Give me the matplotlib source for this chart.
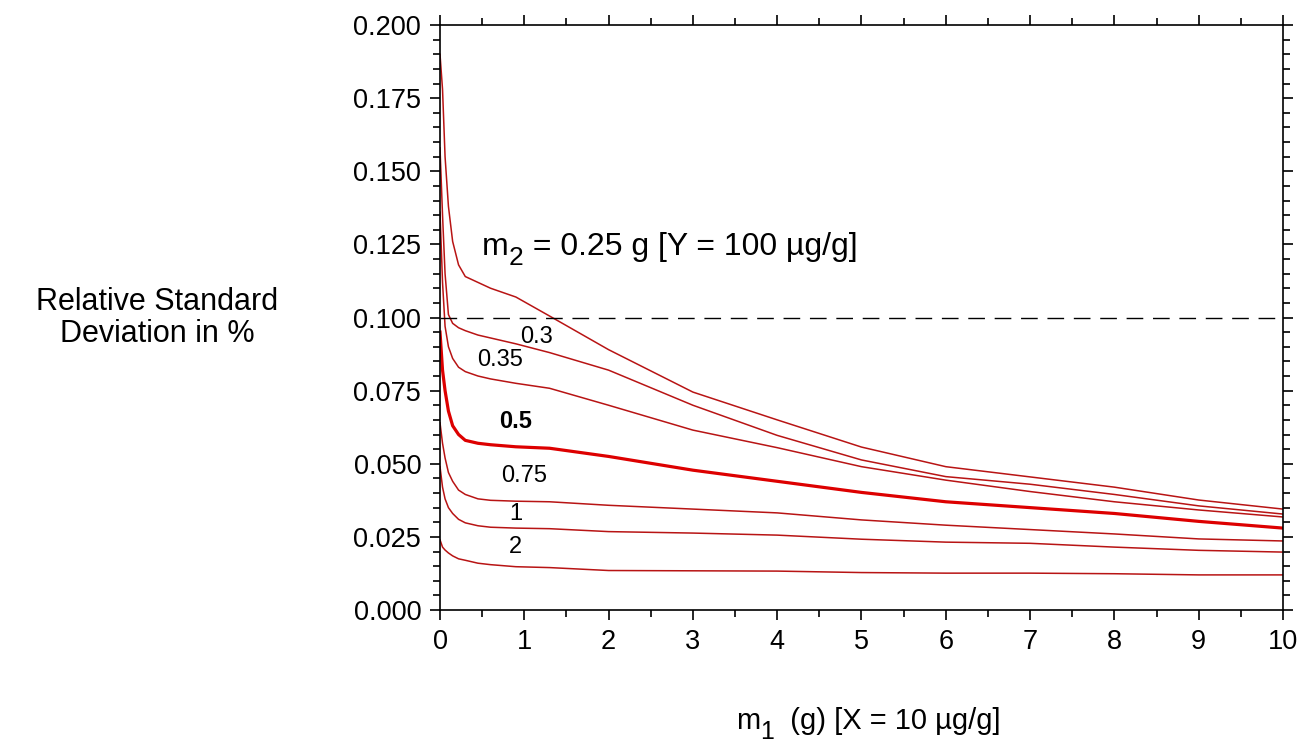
import matplotlib.pyplot as plt
from matplotlib.ticker import MultipleLocator

plt.rcParams['font.family'] = ['Liberation Sans', 'DejaVu Sans']

# data
m1 = [0, 0.03, 0.06, 0.1, 0.15, 0.22, 0.3, 0.45, 0.6, 0.9, 1.3, 2, 3, 4, 5, 6, 7, 8, 9, 10]
rsd_025 = [0.19, 0.178, 0.155, 0.138, 0.126, 0.118, 0.114, 0.112, 0.110, 0.107, 0.1005,
           0.089, 0.0745, 0.065, 0.0557, 0.049, 0.0455, 0.042, 0.0376, 0.0345]
rsd_03 = [0.158, 0.135, 0.115, 0.101, 0.098, 0.0965, 0.0955, 0.094, 0.093, 0.091, 0.088,
          0.082, 0.070, 0.0597, 0.0513, 0.0456, 0.043, 0.0395, 0.0356, 0.0328]
rsd_035 = [0.136, 0.112, 0.097, 0.090, 0.086, 0.083, 0.0815, 0.080, 0.079, 0.0775, 0.0758,
           0.070, 0.0615, 0.0555, 0.049, 0.0444, 0.0405, 0.037, 0.0342, 0.0318]
rsd_05 = [0.095, 0.082, 0.075, 0.068, 0.063, 0.060, 0.058, 0.057, 0.0565, 0.0558, 0.0553,
          0.0525, 0.0478, 0.044, 0.0402, 0.037, 0.035, 0.033, 0.0303, 0.028]
rsd_075 = [0.064, 0.057, 0.052, 0.047, 0.044, 0.041, 0.0395, 0.038, 0.0375, 0.0372, 0.037,
           0.0358, 0.0345, 0.0332, 0.0308, 0.029, 0.0275, 0.026, 0.0243, 0.0236]
rsd_1 = [0.049, 0.042, 0.038, 0.035, 0.033, 0.031, 0.0298, 0.0288, 0.0283, 0.028, 0.0278,
         0.0268, 0.0263, 0.0256, 0.0242, 0.0232, 0.0228, 0.0215, 0.0204, 0.0198]
rsd_2 = [0.024, 0.0215, 0.0205, 0.0195, 0.0185, 0.0175, 0.017, 0.016, 0.0155, 0.0148, 0.0145,
         0.0135, 0.0134, 0.0133, 0.0128, 0.0126, 0.0126, 0.0124, 0.012, 0.012]

curve_labels = ['0.3', '0.35', '0.5', '0.75', '1', '2']
label_x = [1.15, 0.71, 0.90, 1.0, 0.90, 0.90]
label_y = [0.0933, 0.0855, 0.0646, 0.0458, 0.0328, 0.0215]

W, H = 1308, 746
fig = plt.figure(figsize=(W / 100, H / 100), dpi=100)
ax = fig.add_axes([440 / W, 1 - 610 / H, (1283 - 440) / W, (610 - 25) / H])

thin = '#b81414'
for y in [rsd_025, rsd_03, rsd_035, rsd_075, rsd_1, rsd_2]:
    ax.plot(m1, y, color=thin, lw=1.1)
ax.plot(m1, rsd_05, color='#dd0000', lw=2.3)

ax.axhline(0.1, color='black', lw=1.0, dashes=(12, 7))

for t, x, y in zip(curve_labels, label_x, label_y):
    ax.text(x, y, t, ha='center', va='center', fontsize=17,
            fontweight='bold' if t == '0.5' else 'normal')

ax.set_xlim(0, 10)
ax.set_ylim(0, 0.2)
ax.xaxis.set_major_locator(MultipleLocator(1))
ax.xaxis.set_minor_locator(MultipleLocator(0.5))
ax.yaxis.set_major_locator(MultipleLocator(0.025))
ax.yaxis.set_minor_locator(MultipleLocator(0.005))
ax.yaxis.set_major_formatter(plt.FuncFormatter(lambda v, p: f'{v:.3f}'))
ax.tick_params(which='both', direction='out', top=True, right=True, width=1.2,
               labelsize=19.5, color='black')
ax.tick_params(which='major', length=7.5, pad=6)
ax.tick_params(which='minor', length=5)
for s in ax.spines.values():
    s.set_linewidth(1.2)

fig.text(157 / W, 1 - 318 / H, 'Relative Standard\nDeviation in %', fontsize=22,
         ha='center', va='center', multialignment='center', linespacing=1.05)

# text with a large, lowered subscript (as in the reference)
renderer = fig.canvas.get_renderer()


def sub_text(x_px, base_px, pieces, align='left'):
    # pieces: (string, fontsize, drop in px)
    objs = [fig.text(0, 0, s, fontsize=fs, va='baseline', ha='left') for s, fs, d in pieces]
    widths = [o.get_window_extent(renderer).width for o in objs]
    x = x_px - (sum(widths) / 2 if align == 'center' else 0)
    for o, w, (s, fs, d) in zip(objs, widths, pieces):
        o.set_position((x / W, (H - base_px - d) / H))
        x += w


sub_text(482, 255, [('m', 23, 0), ('2', 19, 10), (' = 0.25 g [Y = 100 µg/g]', 23, 0)])
sub_text(868, 729, [('m', 21, 0), ('1', 18, 10), ('  (g) [X = 10 µg/g]', 21, 0)], align='center')

plt.savefig('out.png', dpi=100)
